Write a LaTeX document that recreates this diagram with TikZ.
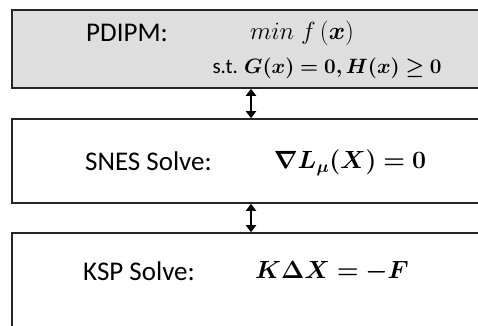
\documentclass[tikz,border=0pt]{standalone}
\usepackage{amsmath,bm}
\usepackage{fontspec}
\setmainfont{Carlito}
\definecolor{box-gray}{HTML}{DEDEDE}
\usetikzlibrary{arrows.meta,positioning}

\begin{document}
\begin{tikzpicture}[x=1pt, y=1pt,
  stage/.style={rectangle, draw=black!85, line width=1.6pt,
                minimum width=478pt, inner sep=0pt},
  lbl/.style={anchor=base west, inner sep=0pt,
              font=\fontsize{27}{32}\selectfont},
  eqn/.style={inner sep=0pt, font=\fontsize{25}{30}\selectfont},
  link/.style={{Triangle[length=7pt,width=10pt]}-{Triangle[length=7pt,width=10pt]},
               line width=2.6pt, black}
]
  \clip (0,0) rectangle (478,325);

  % solver stages
  \node[stage, fill=box-gray, minimum height=78pt] (pdipm) at (251,276) {};
  \node[stage, minimum height=84pt]                (snes)  at (251,164) {};
  \node[stage, minimum height=110pt]               (ksp)   at (251,37)  {};

  % PDIPM
  \node[lbl] (pdipmlbl) at (86,284) {PDIPM:};
  \node[eqn, font=\fontsize{30}{35}\selectfont] (obj) at (302,292)
    {$min\;f\,(\bm{x})$};
  \node[eqn, font=\fontsize{21}{25}\selectfont] (cons) at (327,257)
    {s.t. $\bm{G(x)=0,H(x)\geq 0}$};

  % SNES
  \node[lbl] (sneslbl) at (85,155) {SNES Solve:};
  \node[eqn] (grad) at (350,162) {$\bm{\nabla L_{\mu}(X)=0}$};

  % KSP
  \node[lbl] (ksplbl) at (83,45) {KSP Solve:};
  \node[eqn, font=\fontsize{26}{31}\selectfont] (lin) at (332,53)
    {$\bm{K\Delta X=-F}$};

  % links between stages
  \draw[link] (pdipm.south) -- (snes.north);
  \draw[link] (snes.south)  -- (ksp.north);
\end{tikzpicture}
\end{document}
